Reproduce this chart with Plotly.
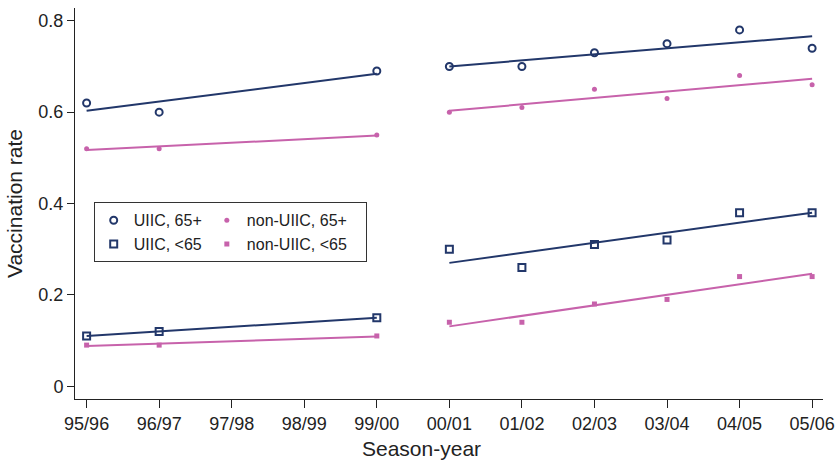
import plotly.graph_objects as go

# ---- data ----
seasons = ["95/96", "96/97", "97/98", "98/99", "99/00", "00/01",
           "01/02", "02/03", "03/04", "04/05", "05/06"]
survey_seasons = ["95/96", "96/97", "99/00", "00/01", "01/02",
                  "02/03", "03/04", "04/05", "05/06"]
uiic_65plus = [0.62, 0.60, 0.69, 0.70, 0.70, 0.73, 0.75, 0.78, 0.74]
non_uiic_65plus = [0.52, 0.52, 0.55, 0.60, 0.61, 0.65, 0.63, 0.68, 0.66]
uiic_under65 = [0.11, 0.12, 0.15, 0.30, 0.26, 0.31, 0.32, 0.38, 0.38]
non_uiic_under65 = [0.09, 0.09, 0.11, 0.14, 0.14, 0.18, 0.19, 0.24, 0.24]

# fitted trend lines (end points)
period1 = ["95/96", "99/00"]
period2 = ["00/01", "05/06"]
fit_uiic_65plus_p1 = [0.603, 0.684]
fit_uiic_65plus_p2 = [0.700, 0.766]
fit_non_uiic_65plus_p1 = [0.517, 0.549]
fit_non_uiic_65plus_p2 = [0.603, 0.673]
fit_uiic_under65_p1 = [0.110, 0.150]
fit_uiic_under65_p2 = [0.270, 0.380]
fit_non_uiic_under65_p1 = [0.088, 0.109]
fit_non_uiic_under65_p2 = [0.131, 0.246]

y_ticks = [0, 0.2, 0.4, 0.6, 0.8]
y_tick_labels = ["0", "0.2", "0.4", "0.6", "0.8"]

NAVY = "#22376a"
PINK = "#c762ab"
FONT = "Liberation Sans, Arial, sans-serif"

fig = go.Figure()

# fit lines
for xs, ys, col in [
    (period1, fit_uiic_65plus_p1, NAVY), (period2, fit_uiic_65plus_p2, NAVY),
    (period1, fit_non_uiic_65plus_p1, PINK), (period2, fit_non_uiic_65plus_p2, PINK),
    (period1, fit_uiic_under65_p1, NAVY), (period2, fit_uiic_under65_p2, NAVY),
    (period1, fit_non_uiic_under65_p1, PINK), (period2, fit_non_uiic_under65_p2, PINK),
]:
    fig.add_trace(go.Scatter(x=xs, y=ys, mode="lines",
                             line=dict(color=col, width=2),
                             showlegend=False, hoverinfo="skip"))

# observed points
fig.add_trace(go.Scatter(
    x=survey_seasons, y=uiic_65plus, mode="markers", name="UIIC, 65+",
    legendgroup="uiic",
    marker=dict(symbol="circle-open", size=7, color=NAVY, line=dict(width=2, color=NAVY))))
fig.add_trace(go.Scatter(
    x=survey_seasons, y=uiic_under65, mode="markers", name="UIIC, &lt;65",
    legendgroup="uiic",
    marker=dict(symbol="square-open", size=7, color=NAVY, line=dict(width=2, color=NAVY))))
fig.add_trace(go.Scatter(
    x=survey_seasons, y=non_uiic_65plus, mode="markers",
    name="non-UIIC, 65+&nbsp;&nbsp;&nbsp;",
    legendgroup="non",
    marker=dict(symbol="circle", size=5, color=PINK)))
fig.add_trace(go.Scatter(
    x=survey_seasons, y=non_uiic_under65, mode="markers",
    name="non-UIIC, &lt;65",
    legendgroup="non",
    marker=dict(symbol="square", size=5, color=PINK)))

fig.update_layout(
    width=837, height=460,
    margin=dict(l=75, r=14, t=8, b=61),
    paper_bgcolor="white", plot_bgcolor="white",
    font=dict(family=FONT, size=18, color="#222"),
    legend=dict(
        orientation="h", traceorder="grouped",
        x=0.025, y=0.503, xanchor="left", yanchor="top",
        bordercolor="#333", borderwidth=1, bgcolor="white",
        font=dict(size=16, color="#222"),
        tracegroupgap=0,
    ),
    xaxis=dict(
        type="category", categoryorder="array", categoryarray=seasons,
        range=[-0.16, 10.15], automargin=False,
        showline=True, linecolor="#222", linewidth=1,
        ticks="outside", ticklen=8, tickcolor="#222", tickwidth=1,
        showgrid=False, zeroline=False,
        tickfont=dict(size=18),
    ),
    yaxis=dict(
        range=[-0.028, 0.828], automargin=False,
        tickvals=y_ticks, ticktext=y_tick_labels,
        showline=True, linecolor="#222", linewidth=1,
        ticks="outside", ticklen=7, tickcolor="#222", tickwidth=1,
        showgrid=False, zeroline=False,
        tickfont=dict(size=18),
        title=dict(text="Vaccination rate", font=dict(size=21), standoff=10),
    ),
    annotations=[dict(
        text="Season-year", xref="paper", yref="paper",
        x=0.4626, y=-0.127, xanchor="center", yanchor="middle",
        showarrow=False, font=dict(size=21, color="#222"))],
)

fig.write_html("out.html",
               config={"displayModeBar": False},
               post_script="document.body.style.margin='0';document.body.style.padding='0';")
